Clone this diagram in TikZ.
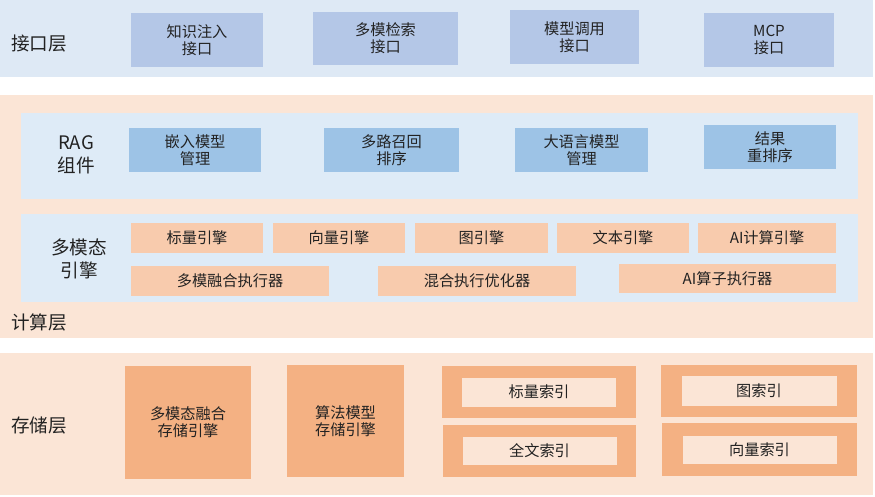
\documentclass[tikz,border=0pt]{standalone}
\usepackage{fontspec}
\setmainfont{Noto Sans CJK SC}
\usepackage{xcolor}
\usepackage{tikz}
\usetikzlibrary{positioning}
\definecolor{ifbg}{HTML}{DEE9F5}
\definecolor{ifcol}{HTML}{B4C7E7}
\definecolor{calbg}{HTML}{FBE5D6}
\definecolor{panelbg}{HTML}{DEEBF7}
\definecolor{ragcol}{HTML}{9DC3E6}
\definecolor{engcol}{HTML}{F8CBAD}
\definecolor{stcol}{HTML}{F4B183}
\definecolor{txtcol}{HTML}{222222}

\tikzset{
  box/.style={inner sep=0pt, align=center, text=txtcol,
    font=\fontsize{15.2}{17}\selectfont},
  ifbox/.style={box, fill=ifcol},
  ragbox/.style={box, fill=ragcol},
  engbox/.style={box, fill=engcol},
  stbox/.style={box, fill=stcol},
  idxbox/.style={box, fill=calbg},
  layerlabel/.style={inner sep=0pt, text=txtcol, align=center,
    font=\fontsize{18.6}{23}\selectfont}
}

\begin{document}
\begin{tikzpicture}[x=1pt, y=-1pt]
\useasboundingbox (0,0) rectangle (875,496);
% layer backgrounds
\fill[ifbg] (0,0) rectangle (873,77);
\fill[calbg] (0,95) rectangle (873,338);
\fill[calbg] (0,353) rectangle (873,495);
\fill[panelbg] (21,113) rectangle (858,199);
\fill[panelbg] (21,214) rectangle (858,302);

% interface layer
\node[layerlabel, anchor=west] (ifl) at (11,44) {接口层};
\node[ifbox, minimum width=132, minimum height=54] (ifa) at (197,40) {知识注入\\接口};
\node[ifbox, minimum width=145, minimum height=53] (ifb) at (385.5,38.5) {多模检索\\接口};
\node[ifbox, minimum width=129, minimum height=54] (ifc) at (574.5,37) {模型调用\\接口};
\node[ifbox, minimum width=130, minimum height=54] (ifd) at (769,40) {MCP\\接口};

% compute layer: RAG
\node[layerlabel] (ragl) at (76,155) {RAG\\组件};
\node[ragbox, minimum width=132, minimum height=44] (raga) at (195,150) {嵌入模型\\管理};
\node[ragbox, minimum width=135, minimum height=44] (ragb) at (391.5,150) {多路召回\\排序};
\node[ragbox, minimum width=133, minimum height=44] (ragc) at (581.5,150) {大语言模型\\管理};
\node[ragbox, minimum width=132, minimum height=44] (ragd) at (770,147) {结果\\重排序};

% compute layer: engines
\node[layerlabel] (engl) at (79,258.5) {多模态\\引擎};
\node[engbox, minimum width=132, minimum height=30] (enga) at (197,238) {标量引擎};
\node[engbox, minimum width=132, minimum height=30] (engb) at (339,238) {向量引擎};
\node[engbox, minimum width=133, minimum height=30] (engc) at (481.5,238) {图引擎};
\node[engbox, minimum width=132, minimum height=30] (engd) at (623,238) {文本引擎};
\node[engbox, minimum width=138, minimum height=30] (enge) at (767,238) {AI计算引擎};
\node[engbox, minimum width=198, minimum height=30] (exa) at (230,281) {多模融合执行器};
\node[engbox, minimum width=198, minimum height=30] (exb) at (477,281) {混合执行优化器};
\node[engbox, minimum width=217, minimum height=29] (exc) at (727.5,278.5) {AI算子执行器};
\node[layerlabel, anchor=west] (call) at (11,322) {计算层};

% storage layer
\node[layerlabel, anchor=west] (stl) at (11,425) {存储层};
\node[stbox, minimum width=126, minimum height=113] (sta) at (188,422.5) {多模态融合\\存储引擎};
\node[stbox, minimum width=117, minimum height=112] (stb) at (345.5,421) {算法模型\\存储引擎};
\node[stbox, minimum width=194, minimum height=52] (ixa) at (539,392) {};
\node[idxbox, minimum width=154, minimum height=29] at (ixa.center) {标量索引};
\node[stbox, minimum width=193, minimum height=52] (ixb) at (539.5,451) {};
\node[idxbox, minimum width=154, minimum height=28] at (ixb.center) {全文索引};
\node[stbox, minimum width=196, minimum height=52] (ixc) at (759,391) {};
\node[idxbox, minimum width=155, minimum height=30] at (ixc.center) {图索引};
\node[stbox, minimum width=195, minimum height=53] (ixd) at (759.5,449.5) {};
\node[idxbox, minimum width=154, minimum height=28] at (ixd.center) {向量索引};
\end{tikzpicture}
\end{document}
